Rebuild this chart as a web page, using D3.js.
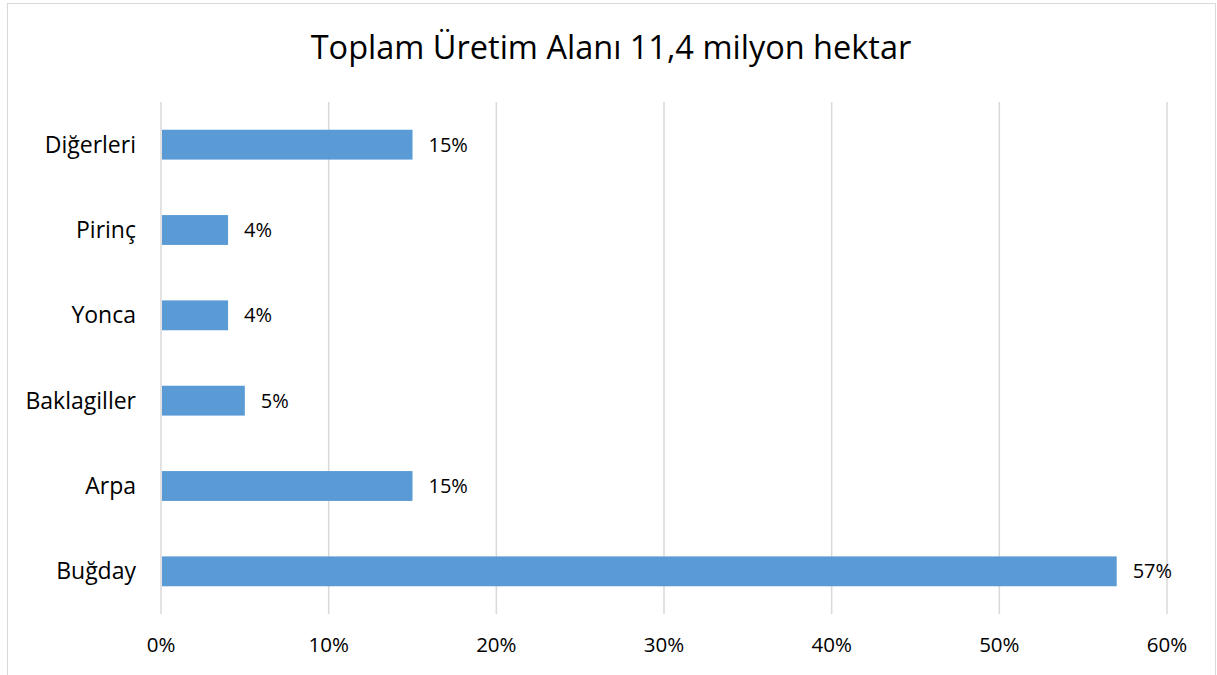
<!DOCTYPE html>
<html>
<head>
	<meta charset="utf-8">
	<title>Toplam Üretim Alanı</title>
	<script src="https://d3js.org/d3.v7.min.js"></script>
	<style>
		body { margin: 0; background: #fff; }
		text { font-family: "Open Sans", "Noto Sans", sans-serif; fill: #000; }
	</style>
</head>
<body>
<svg id="chart" width="1217" height="675"></svg>
<script type="text/javascript">

	// data, top to bottom as drawn
	var categories = ["Diğerleri", "Pirinç", "Yonca", "Baklagiller", "Arpa", "Buğday"];
	var values = [15, 4, 4, 5, 15, 57];
	var ticks = [0, 10, 20, 30, 40, 50, 60];
	var title = "Toplam Üretim Alanı 11,4 milyon hektar";

	var svg = d3.select("#chart");

	// chart border
	svg.append("rect")
		.attr("x", 7.5).attr("y", 3.5)
		.attr("width", 1208).attr("height", 700)
		.style("fill", "none")
		.style("stroke", "#d9d9d9");

	var plotLeft = 161, plotRight = 1167, plotTop = 102, plotBottom = 614;

	var x = d3.scaleLinear().domain([0, 60]).range([plotLeft, plotRight]);
	var y = d3.scaleBand().domain(categories).range([plotTop, plotBottom]).paddingInner(0.65).paddingOuter(0.325);

	// gridlines
	svg.append("g").selectAll("line")
		.data(ticks)
		.enter()
		.append("line")
		.attr("x1", function(d){ return x(d); })
		.attr("x2", function(d){ return x(d); })
		.attr("y1", plotTop)
		.attr("y2", plotBottom)
		.style("stroke", "#d9d9d9")
		.style("stroke-width", 1.5);

	// bars
	svg.append("g").selectAll("rect")
		.data(categories)
		.enter()
		.append("rect")
		.attr("x", x(0) + 1)
		.attr("y", function(d){ return y(d); })
		.attr("width", function(d, i){ return x(values[i]) - x(0) - 1; })
		.attr("height", y.bandwidth())
		.style("fill", "#5b9bd5");

	// value labels
	svg.append("g").selectAll("text")
		.data(categories)
		.enter()
		.append("text")
		.attr("x", function(d, i){ return x(values[i]) + 16; })
		.attr("y", function(d){ return y(d) + y.bandwidth() / 2; })
		.attr("dy", "0.35em")
		.style("font-size", "20px")
		.text(function(d, i){ return values[i] + "%"; });

	// category labels
	svg.append("g").selectAll("text")
		.data(categories)
		.enter()
		.append("text")
		.attr("x", plotLeft - 25)
		.attr("y", function(d){ return y(d) + y.bandwidth() / 2; })
		.attr("dy", "0.35em")
		.attr("text-anchor", "end")
		.style("font-size", "23px")
		.text(function(d){ return d; });

	// x tick labels
	svg.append("g").selectAll("text")
		.data(ticks)
		.enter()
		.append("text")
		.attr("x", function(d){ return x(d); })
		.attr("y", 645)
		.attr("dy", "0.35em")
		.attr("text-anchor", "middle")
		.style("font-size", "20.5px")
		.text(function(d){ return d + "%"; });

	// title
	svg.append("text")
		.attr("x", 611)
		.attr("y", 48)
		.attr("dy", "0.35em")
		.attr("text-anchor", "middle")
		.style("font-size", "32.5px")
		.text(title);

</script>
</body>
</html>
